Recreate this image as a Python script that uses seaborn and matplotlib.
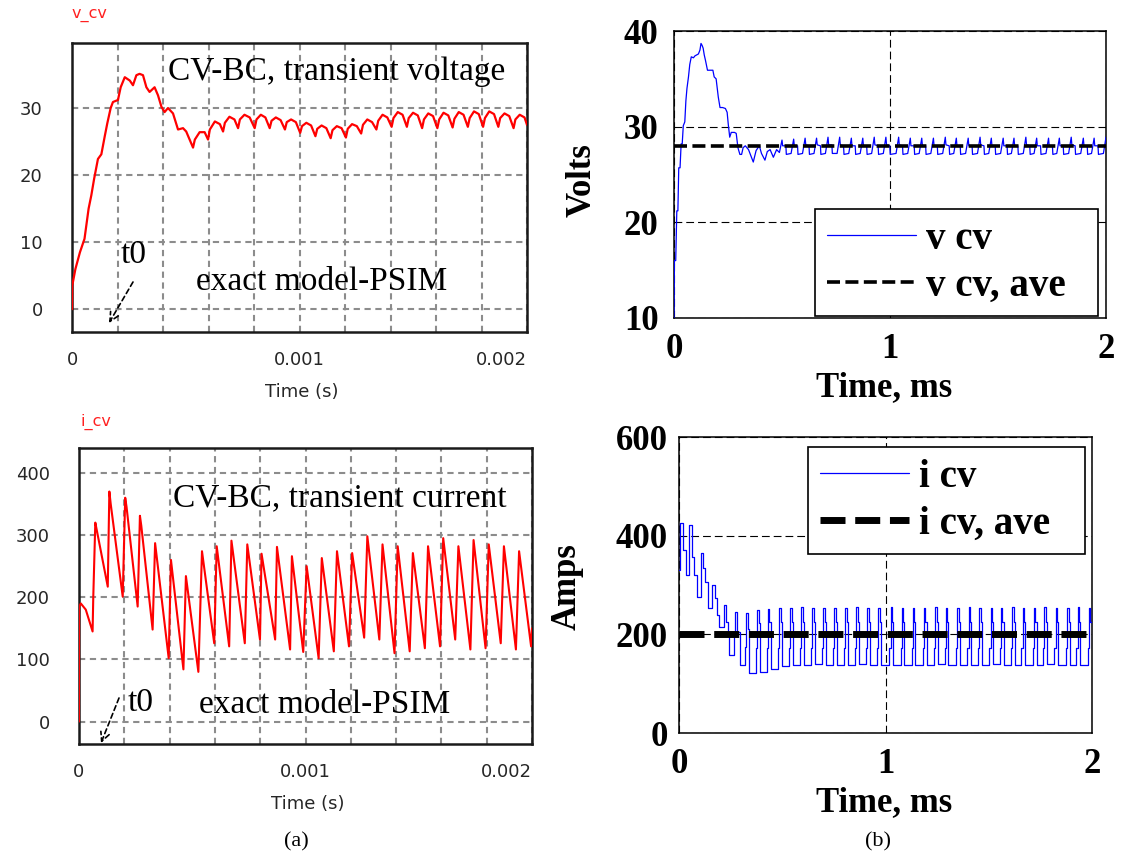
import matplotlib
matplotlib.use("Agg")
import matplotlib.pyplot as plt
import seaborn as sns
import pandas as pd

# ------------------------------------------------------------------ data
# (a) PSIM exact model, time in microseconds
psim_v_t_us = [0, 1, 15, 35, 55, 73, 85, 97, 114, 129, 144, 155, 170, 180, 202, 214, 232, 254,
               268, 283, 297, 312, 327, 341, 363, 378, 393, 407, 422, 444, 466, 488, 502,
               532, 540, 561, 583, 598, 606, 628, 650, 664, 672, 692, 714, 730, 738, 758, 781,
               803, 811, 830, 850, 869, 877, 896, 917, 936, 944, 963, 984, 1003, 1011, 1030, 1051,
               1070, 1078, 1097, 1118, 1137, 1145, 1164, 1185, 1204, 1212, 1231, 1252,
               1271, 1279, 1298, 1319, 1338, 1346, 1365, 1386, 1405, 1413, 1432, 1453,
               1472, 1480, 1499, 1520, 1539, 1547, 1566, 1587, 1606, 1614, 1633, 1654,
               1673, 1681, 1700, 1721, 1740, 1748, 1767, 1788, 1807, 1815, 1834, 1855,
               1874, 1882, 1901, 1922, 1941, 1949, 1968, 1989, 2000]
psim_v = [0, 3.5, 6, 8.5, 10.5, 15, 17, 19.4, 22.4, 23.1, 25.8, 27.7, 30.0, 30.9, 31.2, 33.1, 34.6, 34.1,
          33.4, 34.9, 35.1, 34.9, 33.1, 32.4, 33.1, 31.9, 30.2, 29.4, 30.0, 29.2, 26.8, 27.0, 26.5,
          24.1, 25.3, 26.4, 26.4, 25.3, 26.8, 28.0, 27.6, 26.5, 27.8, 28.7, 28.3, 27.0, 28.3, 29.0, 28.6,
          27.0, 28.3, 29.0, 28.6, 27.0, 28.1, 28.6, 28.2, 26.8, 27.9, 28.3, 27.9, 26.3, 27.3, 27.8, 27.4,
          25.8, 26.9, 27.4, 27.0, 25.5, 26.7, 27.3, 27.0, 25.6, 26.9, 27.6, 27.3,
          26.2, 27.5, 28.3, 27.9, 26.8, 28.1, 29.0, 28.6, 27.2, 28.5, 29.4, 29.0,
          27.2, 28.5, 29.3, 28.9, 27.0, 28.3, 29.2, 28.8, 27.0, 28.3, 29.3, 28.9,
          27.1, 28.4, 29.4, 29.0, 27.2, 28.5, 29.5, 29.1, 27.2, 28.5, 29.5, 29.1,
          27.2, 28.5, 29.2, 28.8, 27.0, 28.3, 29.0, 28.6, 27.5]

psim_i_t_us = [0, 0.5, 8, 30, 60, 63, 72, 80, 127, 134, 140, 193, 204, 210, 259, 269, 275,
               325, 336, 396, 406, 461, 472, 527, 543, 597, 608, 663, 673, 732, 743, 799, 806,
               866, 874, 932, 940, 990, 1005, 1058, 1072, 1125, 1139, 1192, 1206, 1259, 1273,
               1326, 1340, 1393, 1407, 1460, 1474, 1527, 1541, 1594, 1608, 1661, 1675,
               1728, 1742, 1795, 1809, 1862, 1876, 1929, 1943, 1996, 2000]
psim_i = [0, 185, 190, 180, 145, 200, 320, 305, 217, 370, 350, 201, 360, 345, 185, 331, 315,
          148, 287, 102, 260, 84, 234, 80, 274, 126, 282, 121, 291, 126, 285, 132, 270,
          132, 281, 116, 266, 112, 250, 102, 263, 113, 274, 121, 271, 135, 298,
          132, 285, 110, 282, 113, 271, 118, 282, 121, 295, 132, 282,
          116, 292, 118, 285, 126, 282, 116, 274, 121, 150]

# (b) averaged / MATLAB model, time in milliseconds
mat_v_t_ms = [0.000, 0.002, 0.008, 0.013, 0.018, 0.022, 0.028, 0.033, 0.038, 0.043, 0.050, 0.055,
              0.060, 0.067, 0.073, 0.080, 0.090, 0.097, 0.105, 0.113, 0.120, 0.125, 0.130, 0.135,
              0.140, 0.146, 0.155, 0.170, 0.180, 0.186, 0.195, 0.205, 0.213, 0.225, 0.238, 0.246,
              0.251, 0.258, 0.265, 0.280, 0.288, 0.296, 0.305, 0.313, 0.320, 0.330, 0.345, 0.355,
              0.367, 0.380, 0.395, 0.405, 0.421, 0.432, 0.445, 0.460, 0.475,
              0.488, 0.500, 0.503, 0.518, 0.520,
              0.542, 0.554, 0.557, 0.572, 0.574,
              0.595, 0.607, 0.610, 0.625, 0.627,
              0.648, 0.660, 0.663, 0.678, 0.680,
              0.701, 0.713, 0.716, 0.731, 0.733,
              0.755, 0.767, 0.770, 0.785, 0.787,
              0.809, 0.821, 0.824, 0.839, 0.841,
              0.862, 0.874, 0.877, 0.892, 0.894,
              0.915, 0.927, 0.930, 0.945, 0.947,
              0.969, 0.981, 0.984, 0.999, 1.001,
              1.028, 1.040, 1.043, 1.058, 1.060,
              1.082, 1.094, 1.097, 1.112, 1.114,
              1.135, 1.147, 1.150, 1.165, 1.167,
              1.189, 1.201, 1.204, 1.219, 1.221,
              1.244, 1.256, 1.259, 1.274, 1.276,
              1.295, 1.307, 1.310, 1.325, 1.327,
              1.350, 1.362, 1.365, 1.380, 1.382,
              1.405, 1.417, 1.420, 1.435, 1.437,
              1.457, 1.469, 1.472, 1.487, 1.489,
              1.512, 1.524, 1.527, 1.542, 1.544,
              1.562, 1.574, 1.577, 1.592, 1.594,
              1.617, 1.629, 1.632, 1.647, 1.649,
              1.667, 1.679, 1.682, 1.697, 1.699,
              1.722, 1.734, 1.737, 1.752, 1.754,
              1.772, 1.784, 1.787, 1.802, 1.804,
              1.827, 1.839, 1.842, 1.857, 1.859,
              1.883, 1.895, 1.898, 1.913, 1.915,
              1.933, 1.945, 1.948, 1.963, 1.965,
              1.988, 2.000]
mat_v = [10.0, 16.0, 16.0, 21.2, 21.2, 25.7, 25.7, 28.2, 28.2, 30.1, 30.5, 32.7,
         34.0, 35.2, 36.5, 37.3, 37.2, 37.4, 37.5, 37.6, 38.0, 38.7, 38.5, 38.2,
         37.5, 36.9, 35.9, 35.9, 35.9, 35.2, 35.0, 33.1, 32.0, 32.0, 31.9, 31.5,
         30.3, 28.9, 29.4, 29.4, 29.3, 27.8, 27.1, 27.1, 27.8, 28.0, 27.6, 27.0,
         26.3, 27.5, 28.0, 27.2, 26.5, 27.4, 27.6, 26.8, 27.6,
         27.3, 28.6, 28.0, 28.0, 27.1,
         27.2, 28.7, 28.0, 28.0, 27.1,
         27.2, 28.8, 28.1, 28.0, 27.1,
         27.2, 28.8, 28.1, 28.0, 27.1,
         27.2, 28.9, 28.1, 28.1, 27.2,
         27.2, 28.9, 28.1, 28.0, 27.1,
         27.2, 28.8, 28.0, 28.0, 27.1,
         27.2, 28.8, 28.0, 28.0, 27.1,
         27.2, 28.9, 28.1, 28.0, 27.1,
         27.2, 28.9, 28.1, 28.0, 27.1,
         27.2, 28.9, 28.1, 28.0, 27.1,
         27.2, 28.8, 28.0, 28.0, 27.1,
         27.2, 28.8, 28.0, 28.0, 27.1,
         27.2, 28.8, 28.0, 28.0, 27.1,
         27.2, 28.9, 28.1, 28.0, 27.1,
         27.2, 28.8, 28.0, 28.0, 27.1,
         27.2, 28.8, 28.0, 28.0, 27.1,
         27.2, 28.9, 28.1, 28.0, 27.1,
         27.2, 28.8, 28.0, 28.0, 27.1,
         27.2, 28.8, 28.0, 28.0, 27.1,
         27.2, 28.8, 28.0, 28.0, 27.1,
         27.2, 28.9, 28.1, 28.0, 27.1,
         27.2, 28.8, 28.0, 28.0, 27.1,
         27.2, 28.8, 28.0, 28.0, 27.1,
         27.2, 28.8, 28.0, 28.0, 27.1,
         27.2, 28.9, 28.1, 28.0, 27.1,
         27.2, 28.8, 28.0, 28.0, 27.1,
         27.2, 28.8, 28.0, 28.0, 27.1,
         27.2, 28.9]

mat_i_t_ms = [0.000, 0.005, 0.021, 0.035, 0.050, 0.065, 0.074, 0.086, 0.107, 0.118, 0.128, 0.139,
              0.160, 0.172, 0.184, 0.196, 0.220, 0.228, 0.236, 0.244, 0.266, 0.272, 0.282, 0.293,
              0.319, 0.325, 0.333, 0.339,
              0.372, 0.378, 0.385, 0.391,
              0.425, 0.431, 0.438, 0.444,
              0.479, 0.485, 0.492, 0.498,
              0.533, 0.539, 0.546, 0.552,
              0.586, 0.592, 0.599, 0.605,
              0.639, 0.645, 0.652, 0.658,
              0.692, 0.698, 0.705, 0.711,
              0.746, 0.752, 0.759, 0.765,
              0.800, 0.806, 0.813, 0.819,
              0.853, 0.859, 0.866, 0.872,
              0.906, 0.912, 0.919, 0.925,
              0.960, 0.966, 0.973, 0.979,
              1.019, 1.025, 1.032, 1.038,
              1.073, 1.079, 1.086, 1.092,
              1.126, 1.132, 1.139, 1.145,
              1.180, 1.186, 1.193, 1.199,
              1.235, 1.241, 1.248, 1.254,
              1.286, 1.292, 1.299, 1.305,
              1.341, 1.347, 1.354, 1.360,
              1.396, 1.402, 1.409, 1.415,
              1.448, 1.454, 1.461, 1.467,
              1.503, 1.509, 1.516, 1.522,
              1.553, 1.559, 1.566, 1.572,
              1.608, 1.614, 1.621, 1.627,
              1.658, 1.664, 1.671, 1.677,
              1.713, 1.719, 1.726, 1.732,
              1.763, 1.769, 1.776, 1.782,
              1.818, 1.824, 1.831, 1.837,
              1.874, 1.880, 1.887, 1.893,
              1.924, 1.930, 1.937, 1.943,
              1.979, 1.985, 1.992, 2.000]
mat_i = [330, 425, 370, 320, 422, 357, 320, 276, 364, 334, 307, 253,
         300, 273, 239, 215, 259, 226, 199, 158, 200, 246, 205, 138,
         175, 243, 210, 121,
         172, 250, 222, 124,
         172, 252, 224, 130,
         172, 254, 226, 136,
         172, 254, 226, 138,
         172, 255, 226, 138,
         172, 254, 226, 139,
         172, 254, 226, 138,
         172, 253, 225, 138,
         172, 254, 226, 138,
         172, 255, 226, 139,
         172, 254, 226, 138,
         172, 254, 226, 138,
         172, 255, 226, 137,
         172, 254, 226, 138,
         172, 253, 225, 138,
         172, 254, 226, 138,
         172, 255, 226, 139,
         172, 254, 226, 138,
         172, 254, 226, 138,
         172, 255, 226, 138,
         172, 254, 226, 138,
         172, 253, 225, 139,
         172, 254, 226, 138,
         172, 255, 226, 138,
         172, 254, 226, 138,
         172, 254, 226, 138,
         172, 255, 226, 139,
         172, 254, 226, 138,
         172, 254, 226, 138,
         172, 255, 226, 138,
         172, 254, 226, 226]

ave_t_ms = [0, 2]
mat_v_ave = [28, 28]
mat_i_ave = [200, 200]

# ------------------------------------------------------------------ figure
sns.set_theme(style="white")
plt.rcParams["font.family"] = ["DejaVu Sans"]
plt.rcParams["text.color"] = "black"
plt.rcParams["axes.labelcolor"] = "black"

W, H = 1123, 857
fig = plt.figure(figsize=(W / 100, H / 100), dpi=100)
fig.patch.set_facecolor("white")

TL = (72, 43, 527, 332)
BL = (79, 448, 532, 744)
TR = (674, 31, 1106, 318)
BR = (679, 437, 1092, 733)


def add_ax(box):
    l, t, r, b = box
    return fig.add_axes([l / W, 1 - b / H, (r - l) / W, (b - t) / H])


def axc(box, x, y):
    l, t, r, b = box
    return ((x - l) / (r - l), (b - y) / (b - t))


def fxy(x, y):
    return (x / W, 1 - y / H)


SERIF = "Liberation Serif"
GRID_X_MINOR = [0.0002, 0.0004, 0.0006, 0.0008, 0.0012, 0.0014, 0.0016, 0.0018]


def psim_panel(box, t_us, vals, ylim, yticks, name, name_xy, title, title_xy,
               model_xy, t0_xy, arr_from, arr_to, lw):
    ax = add_ax(box)
    df = pd.DataFrame({"t": [x / 1e6 for x in t_us], "y": vals})
    sns.lineplot(data=df, x="t", y="y", ax=ax, color="#ff0000", lw=lw,
                 estimator=None, sort=False, zorder=3)
    ax.set_xlim(0, 0.002)
    ax.set_ylim(*ylim)
    ax.set_xticks([0, 0.001, 0.002], labels=["0", "0.001", "0.002"])
    ax.set_xticks(GRID_X_MINOR, minor=True)
    ax.set_yticks(yticks, labels=[str(v) for v in yticks])
    ax.set_axisbelow(True)
    gkw = dict(color="#8c8c8c", lw=1.5, linestyle=(0, (3.0, 2.2)))
    ax.grid(True, which="both", axis="x", **gkw)
    ax.grid(True, which="major", axis="y", **gkw)
    ax.tick_params(axis="both", which="both", length=0, labelsize=13, colors="#262626")
    ax.tick_params(axis="x", pad=14)
    ax.tick_params(axis="y", pad=21)
    labs = ax.get_xticklabels()
    labs[-1].set_ha("right")
    for s in ax.spines.values():
        s.set_color("#1a1a1a")
        s.set_linewidth(1.8)
    ax.set_xlabel("Time (s)", fontsize=13, color="#262626")
    ax.set_ylabel("")
    ax.xaxis.label.set_va("center")
    ax.xaxis.set_label_coords(*axc(box, (box[0] + box[2]) / 2 + 2, box[3] + 60))
    fig.text(*fxy(*name_xy), name, color="#ff2020", fontsize=11.5, ha="left", va="center")
    fig.text(*fxy(*title_xy), title, family=SERIF, fontsize=24, color="black",
             ha="left", va="center")
    fig.text(*fxy(*model_xy), "exact model-PSIM", family=SERIF, fontsize=24,
             color="black", ha="left", va="center")
    fig.text(*fxy(*t0_xy), "t0", family=SERIF, fontsize=24, color="black",
             ha="left", va="center")
    ax.annotate("", xy=(arr_to[0], H - arr_to[1]), xycoords="figure pixels",
                xytext=(arr_from[0], H - arr_from[1]), textcoords="figure pixels",
                arrowprops=dict(arrowstyle="->", color="black", lw=1.2,
                                linestyle=(0, (3, 2)), shrinkA=0, shrinkB=0,
                                mutation_scale=16))
    return ax


psim_panel(TL, psim_v_t_us, psim_v, (-3.4, 39.7), [0, 10, 20, 30], "v_cv", (72, 15),
           "CV-BC, transient voltage", (168, 72), (196, 282), (121, 255),
           (133, 282), (109, 323), 1.6)
psim_panel(BL, psim_i_t_us, psim_i, (-36, 440), [0, 100, 200, 300, 400], "i_cv", (81, 422),
           "CV-BC, transient current", (173, 498), (199, 705), (128, 703),
           (119, 698), (101, 743), 1.5)


def mat_panel(box, t_ms, vals, ave, ylim, yticks, ylabel, ylabel_xy, lab, lab_ave,
              ave_lw, ave_dash, legend_box, ypad, steps):
    ax = add_ax(box)
    df = pd.DataFrame({"t": t_ms, "y": vals})
    kw = dict(drawstyle="steps-post") if steps else {}
    sns.lineplot(data=df, x="t", y="y", ax=ax, color="#0000ff", lw=0.9,
                 estimator=None, sort=False, label=lab, zorder=3, **kw)
    dfa = pd.DataFrame({"t": ave_t_ms, "y": ave})
    sns.lineplot(data=dfa, x="t", y="y", ax=ax, color="black", lw=ave_lw,
                 estimator=None, sort=False, label=lab_ave, zorder=4, linestyle="--")
    ax.lines[-1].set_dashes(ave_dash)
    ax.lines[-1].set_dash_capstyle("butt")
    ax.set_xlim(0, 2)
    ax.set_ylim(*ylim)
    tk = dict(fontfamily=SERIF, fontweight="bold", fontsize=25, color="black")
    ax.set_xticks([0, 1, 2], labels=["0", "1", "2"], **tk)
    ax.set_yticks(yticks, labels=[str(v) for v in yticks], **tk)
    ax.set_axisbelow(True)
    ax.grid(True, which="major", color="black", lw=0.8, linestyle=(0, (7, 3.6)))
    ax.tick_params(axis="both", length=0, colors="black")
    ax.tick_params(axis="x", pad=11)
    ax.tick_params(axis="y", pad=ypad)
    for s in ax.spines.values():
        s.set_color("black")
        s.set_linewidth(1.1)
    ax.set_xlabel("Time, ms", fontfamily=SERIF, fontweight="bold", fontsize=25,
                  color="black")
    ax.xaxis.label.set_va("center")
    ax.xaxis.set_label_coords(*axc(box, 884, box[3] + 70))
    ax.set_ylabel(ylabel, fontfamily=SERIF, fontweight="bold", fontsize=25, color="black")
    ax.yaxis.label.set_va("center")
    ax.yaxis.set_label_coords(*axc(box, *ylabel_xy))
    l, t, r, b = legend_box
    leg = ax.legend(loc="upper left",
                    bbox_to_anchor=(l / W, 1 - b / H, (r - l) / W, (b - t) / H),
                    bbox_transform=fig.transFigure, borderaxespad=0, frameon=True,
                    mode="expand", fancybox=False, framealpha=1, edgecolor="black",
                    prop=dict(family=SERIF, weight="bold", size=28),
                    handlelength=2.3, handletextpad=0.25, borderpad=0.3,
                    labelspacing=0.25)
    leg.get_frame().set_linewidth(1.2)
    for txt in leg.get_texts():
        txt.set_color("black")
    for h in leg.get_lines():
        h.set_dash_capstyle("butt")
    return ax


mat_panel(TR, mat_v_t_ms, mat_v, mat_v_ave, (10, 40), [10, 20, 30, 40], "Volts", (582, 180),
          "v cv", "v cv, ave", 2.6, [3.6, 1.5], (815, 209, 1098, 312), 11, False)
mat_panel(BR, mat_i_t_ms, mat_i, mat_i_ave, (0, 600), [0, 200, 400, 600], "Amps", (567, 587),
          "i cv", "i cv, ave", 5.0, [3.6, 1.4], (808, 447, 1085, 552), 8, True)

fig.text(*fxy(296, 842), "(a)", family=SERIF, fontsize=16, ha="center", va="center")
fig.text(*fxy(878, 842), "(b)", family=SERIF, fontsize=16, ha="center", va="center")

fig.savefig("out.png", dpi=100, facecolor="white")
